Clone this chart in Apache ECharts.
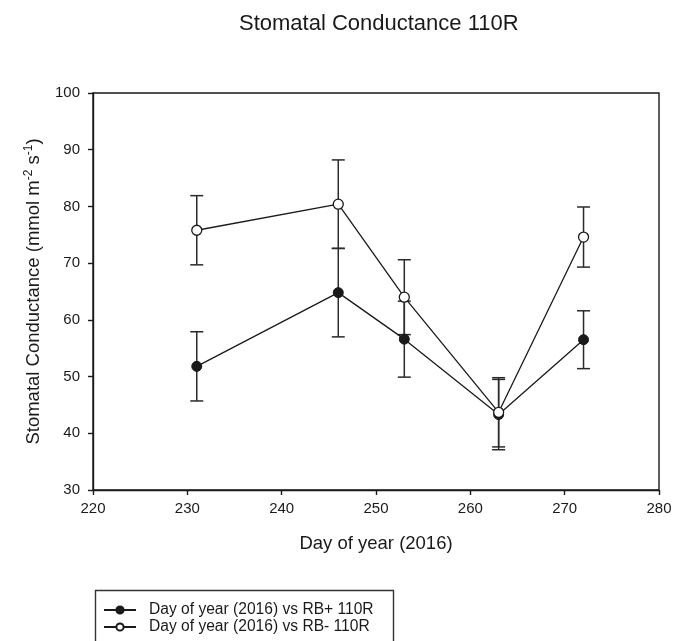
<!DOCTYPE html>
<html>
<head>
<meta charset="utf-8">
<script src="https://cdn.jsdelivr.net/npm/echarts@6/dist/echarts.min.js"></script>
<style>html,body{margin:0;padding:0;background:#fff;}#c{width:675px;height:641px;}</style>
</head>
<body>
<div id="c"></div>
<script>
const days = [231, 246, 253, 263, 272];
const rbPlus = [51.8, 64.8, 56.6, 43.3, 56.5];
const rbPlusErr = [6.1, 7.8, 6.7, 6.2, 5.1];
const rbMinus = [75.8, 80.4, 64.0, 43.7, 74.6];
const rbMinusErr = [6.1, 7.8, 6.6, 6.1, 5.3];
const xTicks = [220, 230, 240, 250, 260, 270, 280];
const yTicks = [30, 40, 50, 60, 70, 80, 90, 100];
const seriesNames = ['Day of year (2016) vs RB+ 110R', 'Day of year (2016) vs RB- 110R'];

const FONT = '"Liberation Sans", Arial, sans-serif';
const INK = '#1a1a1a';

function errData(vals, errs) {
  return days.map((d, i) => [d, vals[i] - errs[i], vals[i] + errs[i]]);
}
function errSeries(vals, errs) {
  return {
    type: 'custom',
    z: 1,
    silent: true,
    data: errData(vals, errs),
    renderItem: function (params, api) {
      const lo = api.coord([api.value(0), api.value(1)]);
      const hi = api.coord([api.value(0), api.value(2)]);
      const w = 6.5;
      const st = { stroke: '#2a2a2a', lineWidth: 1.5 };
      return {
        type: 'group',
        children: [
          { type: 'line', shape: { x1: lo[0], y1: lo[1], x2: hi[0], y2: hi[1] }, style: st },
          { type: 'line', shape: { x1: lo[0] - w, y1: lo[1], x2: lo[0] + w, y2: lo[1] }, style: st },
          { type: 'line', shape: { x1: hi[0] - w, y1: hi[1], x2: hi[0] + w, y2: hi[1] }, style: st }
        ]
      };
    }
  };
}

function legendFor(name, top) {
  return {
    orient: 'vertical', left: 103, top: top, padding: 0,
    itemWidth: 32, itemHeight: 9,
    textStyle: { fontFamily: FONT, fontSize: 15.6, color: INK, padding: [0, 0, 0, 8] },
    data: [name]
  };
}

const chart = echarts.init(document.getElementById('c'));
chart.setOption({
  animation: false,
  backgroundColor: '#fff',
  textStyle: { fontFamily: FONT },
  title: {
    text: 'Stomatal Conductance 110R',
    left: 234, top: 8,
    textStyle: { fontFamily: FONT, fontSize: 22, fontWeight: 'normal', color: INK }
  },
  grid: { left: 93, right: 16, top: 93, bottom: 151, show: true, borderColor: INK, borderWidth: 1.4, backgroundColor: 'transparent' },
  xAxis: {
    type: 'value', min: xTicks[0], max: xTicks[xTicks.length - 1], interval: 10,
    name: 'Day of year (2016)', nameLocation: 'middle', nameGap: 44,
    nameTextStyle: { fontFamily: FONT, fontSize: 18.5, color: INK },
    axisLine: { lineStyle: { color: INK, width: 1.4 } },
    axisTick: { inside: false, length: 5, lineStyle: { color: INK, width: 1.4 } },
    axisLabel: { fontFamily: FONT, fontSize: 15, color: INK, margin: 11 },
    splitLine: { show: false }
  },
  yAxis: {
    type: 'value', min: yTicks[0], max: yTicks[yTicks.length - 1], interval: 10,
    name: '{n|Stomatal Conductance (mmol m}{s|-2}{n| s}{s|-1}{n|)}',
    nameLocation: 'middle', nameGap: 48,
    nameTextStyle: {
      rich: {
        n: { fontFamily: FONT, fontSize: 18.5, color: INK },
        s: { fontFamily: FONT, fontSize: 12, color: INK, verticalAlign: 'top', padding: [0, 0, 10, 0] }
      }
    },
    axisLine: { lineStyle: { color: INK, width: 1.4 } },
    axisTick: { inside: false, length: 5, lineStyle: { color: INK, width: 1.4 } },
    axisLabel: { fontFamily: FONT, fontSize: 15, color: INK, margin: 13 },
    splitLine: { show: false }
  },
  legend: [legendFor(seriesNames[0], 602), legendFor(seriesNames[1], 619)],
  graphic: [{
    type: 'rect', left: 93, top: 588, silent: true,
    shape: { width: 298, height: 80 },
    style: { fill: 'none', stroke: '#333', lineWidth: 1.4 }
  }],
  series: [
    errSeries(rbPlus, rbPlusErr),
    errSeries(rbMinus, rbMinusErr),
    {
      name: seriesNames[0], type: 'line', z: 3,
      data: days.map((d, i) => [d, rbPlus[i]]),
      symbol: 'circle', symbolSize: 10,
      lineStyle: { color: INK, width: 1.3 },
      itemStyle: { color: INK, borderColor: INK, borderWidth: 1 }
    },
    {
      name: seriesNames[1], type: 'line', z: 4,
      data: days.map((d, i) => [d, rbMinus[i]]),
      symbol: 'circle', symbolSize: 10,
      lineStyle: { color: INK, width: 1.3 },
      itemStyle: { color: '#fff', borderColor: INK, borderWidth: 1.3 }
    }
  ]
});
</script>
</body>
</html>
